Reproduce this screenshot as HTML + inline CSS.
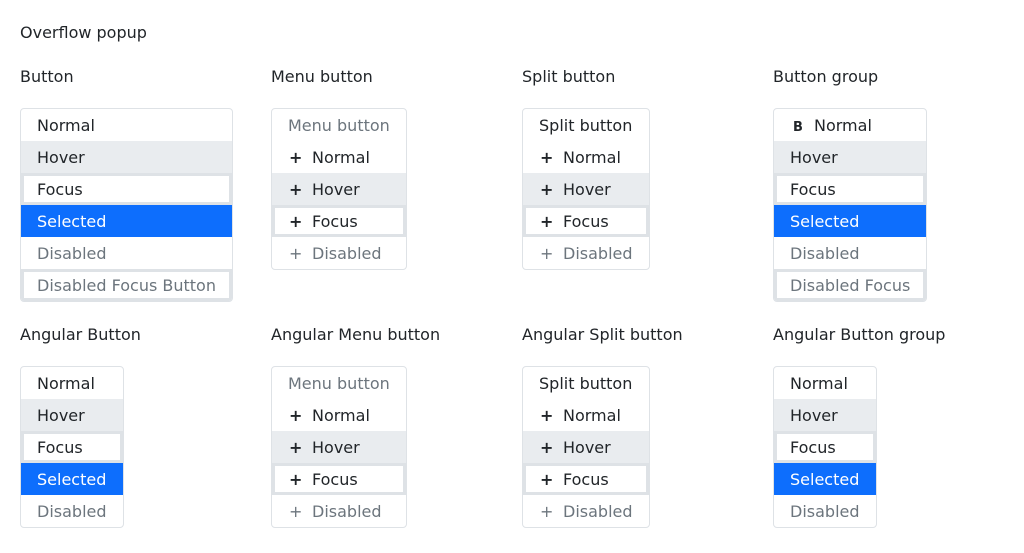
<!DOCTYPE html>
<html><head><style>
body{margin:0;width:1024px;height:553px;background:#fff;font-family:"DejaVu Sans","Liberation Sans",sans-serif;color:#212529;position:relative;overflow:hidden}
.t{position:absolute;font-size:16px;line-height:20px;white-space:nowrap}
.box{position:absolute;border:1px solid #dee2e6;border-radius:4px;background:#fff;overflow:hidden}
.i{height:32px;line-height:34px;font-size:16px;padding-left:16px;white-space:nowrap;box-sizing:border-box;position:relative}
.h{background:#e9ecef}
.f{border:3px solid #dee2e6;padding-left:13px;line-height:28px}
.s{background:#0d6efd;color:#fff}
.d{color:#6c757d}
.p{display:inline-block;width:23px;font-weight:bold;padding-left:1px}
.d .p{font-weight:normal}
.b{display:inline-block;width:21px;font-size:13px;font-weight:bold;padding-left:3px}
</style></head><body>
<div class="t" style="left:20px;top:23px">Overflow popup</div>
<div class="t" style="left:20px;top:67px">Button</div>
<div class="t" style="left:271px;top:67px">Menu button</div>
<div class="t" style="left:522px;top:67px">Split button</div>
<div class="t" style="left:773px;top:67px">Button group</div>
<div class="t" style="left:20px;top:325px">Angular Button</div>
<div class="t" style="left:271px;top:325px">Angular Menu button</div>
<div class="t" style="left:522px;top:325px">Angular Split button</div>
<div class="t" style="left:773px;top:325px">Angular Button group</div>

<div class="box" style="left:20px;top:108px;width:211px">
<div class="i">Normal</div><div class="i h">Hover</div><div class="i f">Focus</div><div class="i s">Selected</div><div class="i d">Disabled</div><div class="i d f">Disabled Focus Button</div></div>

<div class="box" style="left:271px;top:108px;width:134px">
<div class="i d">Menu button</div><div class="i"><span class="p">+</span>Normal</div><div class="i h"><span class="p">+</span>Hover</div><div class="i f"><span class="p">+</span>Focus</div><div class="i d"><span class="p">+</span>Disabled</div></div>

<div class="box" style="left:522px;top:108px;width:126px">
<div class="i">Split button</div><div class="i"><span class="p">+</span>Normal</div><div class="i h"><span class="p">+</span>Hover</div><div class="i f"><span class="p">+</span>Focus</div><div class="i d"><span class="p">+</span>Disabled</div></div>

<div class="box" style="left:773px;top:108px;width:152px">
<div class="i"><span class="b">B</span>Normal</div><div class="i h">Hover</div><div class="i f">Focus</div><div class="i s">Selected</div><div class="i d">Disabled</div><div class="i d f">Disabled Focus</div></div>

<div class="box" style="left:20px;top:366px;width:102px">
<div class="i">Normal</div><div class="i h">Hover</div><div class="i f">Focus</div><div class="i s">Selected</div><div class="i d">Disabled</div></div>

<div class="box" style="left:271px;top:366px;width:134px">
<div class="i d">Menu button</div><div class="i"><span class="p">+</span>Normal</div><div class="i h"><span class="p">+</span>Hover</div><div class="i f"><span class="p">+</span>Focus</div><div class="i d"><span class="p">+</span>Disabled</div></div>

<div class="box" style="left:522px;top:366px;width:126px">
<div class="i">Split button</div><div class="i"><span class="p">+</span>Normal</div><div class="i h"><span class="p">+</span>Hover</div><div class="i f"><span class="p">+</span>Focus</div><div class="i d"><span class="p">+</span>Disabled</div></div>

<div class="box" style="left:773px;top:366px;width:102px">
<div class="i">Normal</div><div class="i h">Hover</div><div class="i f">Focus</div><div class="i s">Selected</div><div class="i d">Disabled</div></div>
</body></html>
